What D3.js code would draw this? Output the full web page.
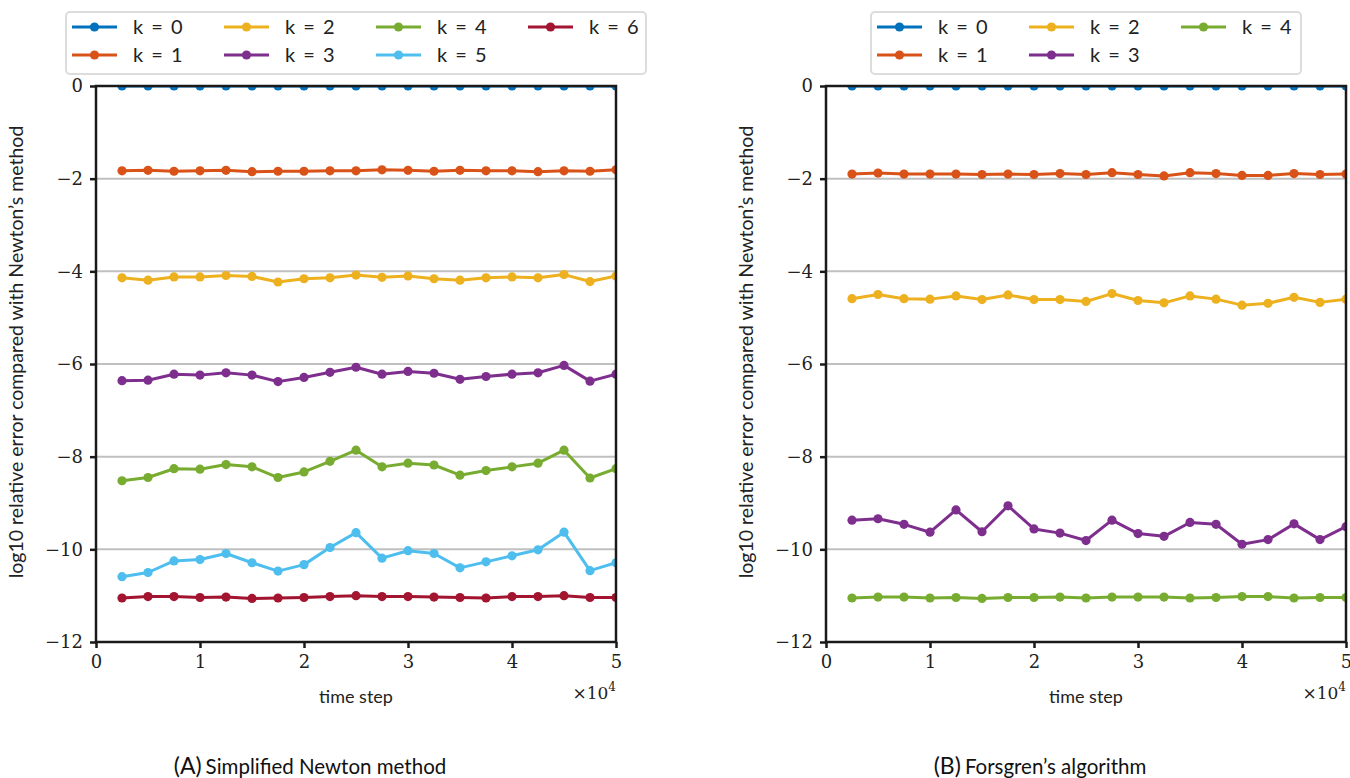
<!DOCTYPE html>
<html>
<head>
<meta charset="utf-8">
<script src="https://cdn.jsdelivr.net/npm/d3@7"></script>
<style>
    body { margin: 0; background: #fff; }
    #chart { width: 1350px; height: 778px; }
</style>
</head>
<body>
<div id="chart"></div>
<script>
// time steps (x values)
const steps = [2500, 5000, 7500, 10000, 12500, 15000, 17500, 20000, 22500, 25000,
    27500, 30000, 32500, 35000, 37500, 40000, 42500, 45000, 47500, 50000];

const xTicks = [0, 10000, 20000, 30000, 40000, 50000];
const yTicks = [0, -2, -4, -6, -8, -10, -12];

const seriesNames = ["k = 0", "k = 1", "k = 2", "k = 3", "k = 4", "k = 5", "k = 6"];
const seriesColors = ["#0072BD", "#D95319", "#EDB120", "#7E2F8E", "#77AC30", "#4DBEEE", "#A2142F"];

// (A) Simplified Newton method
const leftK0 = [0, 0, 0, 0, 0, 0, 0, 0, 0, 0, 0, 0, 0, 0, 0, 0, 0, 0, 0, 0];
const leftK1 = [-1.83, -1.82, -1.84, -1.83, -1.82, -1.85, -1.84, -1.84, -1.83, -1.83, -1.81, -1.82, -1.84, -1.82, -1.83, -1.83, -1.85, -1.83, -1.84, -1.81];
const leftK2 = [-4.14, -4.19, -4.12, -4.12, -4.09, -4.11, -4.23, -4.16, -4.14, -4.08, -4.13, -4.10, -4.16, -4.19, -4.14, -4.12, -4.14, -4.07, -4.22, -4.10];
const leftK3 = [-6.36, -6.35, -6.22, -6.24, -6.19, -6.24, -6.38, -6.29, -6.18, -6.07, -6.22, -6.16, -6.20, -6.33, -6.27, -6.22, -6.19, -6.03, -6.37, -6.22];
const leftK4 = [-8.52, -8.45, -8.26, -8.27, -8.17, -8.22, -8.45, -8.33, -8.10, -7.86, -8.22, -8.14, -8.18, -8.40, -8.30, -8.22, -8.14, -7.86, -8.46, -8.26];
const leftK5 = [-10.59, -10.50, -10.25, -10.22, -10.09, -10.29, -10.47, -10.33, -9.96, -9.64, -10.19, -10.03, -10.09, -10.40, -10.27, -10.14, -10.01, -9.63, -10.46, -10.29];
const leftK6 = [-11.05, -11.02, -11.02, -11.04, -11.03, -11.06, -11.05, -11.04, -11.02, -11.00, -11.02, -11.02, -11.03, -11.04, -11.05, -11.02, -11.02, -11.00, -11.04, -11.04];

// (B) Forsgren's algorithm
const rightK0 = [0, 0, 0, 0, 0, 0, 0, 0, 0, 0, 0, 0, 0, 0, 0, 0, 0, 0, 0, 0];
const rightK1 = [-1.90, -1.88, -1.90, -1.90, -1.90, -1.91, -1.90, -1.91, -1.89, -1.91, -1.87, -1.91, -1.94, -1.87, -1.89, -1.93, -1.93, -1.89, -1.91, -1.90];
const rightK2 = [-4.59, -4.50, -4.59, -4.60, -4.53, -4.61, -4.51, -4.61, -4.61, -4.65, -4.48, -4.63, -4.68, -4.53, -4.60, -4.73, -4.69, -4.56, -4.67, -4.60];
const rightK3 = [-9.37, -9.34, -9.46, -9.63, -9.15, -9.62, -9.06, -9.56, -9.65, -9.81, -9.37, -9.66, -9.72, -9.42, -9.46, -9.89, -9.79, -9.45, -9.79, -9.51];
const rightK4 = [-11.05, -11.03, -11.03, -11.05, -11.04, -11.06, -11.04, -11.04, -11.03, -11.05, -11.03, -11.03, -11.03, -11.05, -11.04, -11.02, -11.02, -11.05, -11.04, -11.04];

function init() {
    const svg = d3.select("#chart")
        .append("svg")
        .attr("width", 1350)
        .attr("height", 778);

    drawPanel(svg, {
        id: "a",
        left: 96,
        series: [leftK0, leftK1, leftK2, leftK3, leftK4, leftK5, leftK6],
        legendX: 66,
        legendW: 580,
        caption: "Simplified Newton method",
        tag: "(A)"
    });

    drawPanel(svg, {
        id: "b",
        left: 826,
        series: [rightK0, rightK1, rightK2, rightK3, rightK4],
        legendX: 871,
        legendW: 430,
        caption: "Forsgren\u2019s algorithm",
        tag: "(B)"
    });
}

function drawPanel(svg, opts) {
    const w = 520;
    const top = 86;
    const bottom = 642;
    const left = opts.left;
    const right = left + w;

    const xScale = d3.scaleLinear()
        .domain([0, 50000])
        .range([left, right]);

    const yScale = d3.scaleLinear()
        .domain([-12, 0])
        .range([bottom, top]);

    const g = svg.append("g");

    // clip for the plotted lines
    g.append("clipPath")
        .attr("id", "clip-" + opts.id)
        .append("rect")
        .attr("x", left)
        .attr("y", top)
        .attr("width", w)
        .attr("height", bottom - top);

    // horizontal grid
    g.append("g")
        .selectAll("line")
        .data(yTicks)
        .enter()
        .append("line")
        .attr("x1", left)
        .attr("x2", right)
        .attr("y1", function (d) { return yScale(d); })
        .attr("y2", function (d) { return yScale(d); })
        .attr("stroke", "#c0c0c0")
        .attr("stroke-width", 2);

    const line = d3.line()
        .x(function (d, i) { return xScale(steps[i]); })
        .y(function (d) { return yScale(d); });

    const plot = g.append("g")
        .attr("clip-path", "url(#clip-" + opts.id + ")");

    opts.series.forEach(function (values, k) {
        plot.append("path")
            .datum(values)
            .attr("fill", "none")
            .attr("stroke", seriesColors[k])
            .attr("stroke-width", 3)
            .attr("stroke-linejoin", "round")
            .attr("d", line);

        plot.append("g")
            .selectAll("circle")
            .data(values)
            .enter()
            .append("circle")
            .attr("cx", function (d, i) { return xScale(steps[i]); })
            .attr("cy", function (d) { return yScale(d); })
            .attr("r", 4.6)
            .attr("fill", seriesColors[k]);
    });

    // axes
    const xAxis = d3.axisBottom(xScale)
        .tickValues(xTicks)
        .tickSize(6)
        .tickPadding(7)
        .tickFormat(function (d) { return d / 10000; });

    const yAxis = d3.axisLeft(yScale)
        .tickValues(yTicks)
        .tickSize(6)
        .tickPadding(7)
        .tickFormat(d3.format("d"));

    const gx = g.append("g")
        .attr("transform", "translate(0," + bottom + ")")
        .call(xAxis);

    const gy = g.append("g")
        .attr("transform", "translate(" + left + ",0)")
        .call(yAxis);

    [gx, gy].forEach(function (ax) {
        ax.select(".domain").remove();
        ax.selectAll(".tick line")
            .attr("stroke", "#1a1a1a")
            .attr("stroke-width", 2.5);
        ax.selectAll(".tick text")
            .attr("fill", "#222")
            .style("font-family", "'DejaVu Serif', serif")
            .style("font-size", "18px");
    });

    // box
    g.append("rect")
        .attr("x", left)
        .attr("y", top)
        .attr("width", w)
        .attr("height", bottom - top)
        .attr("fill", "none")
        .attr("stroke", "#1a1a1a")
        .attr("stroke-width", 2.5);

    // axis titles
    g.append("text")
        .attr("x", (left + right) / 2)
        .attr("y", 703)
        .attr("text-anchor", "middle")
        .style("font-family", "Lato, sans-serif")
        .style("font-size", "18px")
        .attr("fill", "#222")
        .text("time step");

    const mult = g.append("text")
        .attr("x", right)
        .attr("y", 699)
        .attr("text-anchor", "end")
        .style("font-family", "'DejaVu Serif', serif")
        .style("font-size", "17px")
        .attr("fill", "#222");
    mult.append("tspan").text("\u00d710");
    mult.append("tspan")
        .attr("dy", -8)
        .style("font-size", "12px")
        .text("4");

    g.append("text")
        .attr("transform", "translate(" + (left - 73) + "," + ((top + bottom) / 2 - 12) + ") rotate(-90)")
        .attr("text-anchor", "middle")
        .style("font-family", "Lato, sans-serif")
        .style("font-size", "19.5px")
        .attr("fill", "#222")
        .text("log10 relative error compared with Newton\u2019s method");

    // caption
    const cap = g.append("text")
        .attr("x", (left + right) / 2 - 46)
        .attr("y", 774)
        .attr("text-anchor", "middle")
        .style("font-family", "Lato, sans-serif")
        .attr("fill", "#111");
    cap.append("tspan")
        .style("font-size", "23px")
        .text(opts.tag);
    cap.append("tspan")
        .attr("dx", 4)
        .style("font-size", "20.5px")
        .text(opts.caption);

    // legend
    const legend = g.append("g");
    legend.append("rect")
        .attr("x", opts.legendX)
        .attr("y", 12)
        .attr("width", opts.legendW)
        .attr("height", 62)
        .attr("rx", 4)
        .attr("fill", "#fff")
        .attr("stroke", "#dcdcdc")
        .attr("stroke-width", 2);

    opts.series.forEach(function (values, k) {
        const col = Math.floor(k / 2);
        const row = k % 2;
        const lx = opts.legendX + 6 + col * 152;
        const ly = 27 + row * 28;
        legend.append("line")
            .attr("x1", lx)
            .attr("x2", lx + 45)
            .attr("y1", ly)
            .attr("y2", ly)
            .attr("stroke", seriesColors[k])
            .attr("stroke-width", 3);
        legend.append("circle")
            .attr("cx", lx + 22.5)
            .attr("cy", ly)
            .attr("r", 4.6)
            .attr("fill", seriesColors[k]);
        legend.append("text")
            .attr("x", lx + 61)
            .attr("y", ly)
            .attr("dy", "0.36em")
            .style("font-family", "Lato, sans-serif")
            .style("font-size", "20px")
            .style("word-spacing", "3px")
            .attr("fill", "#222")
            .text(seriesNames[k]);
    });
}

window.onload = init;
</script>
</body>
</html>
